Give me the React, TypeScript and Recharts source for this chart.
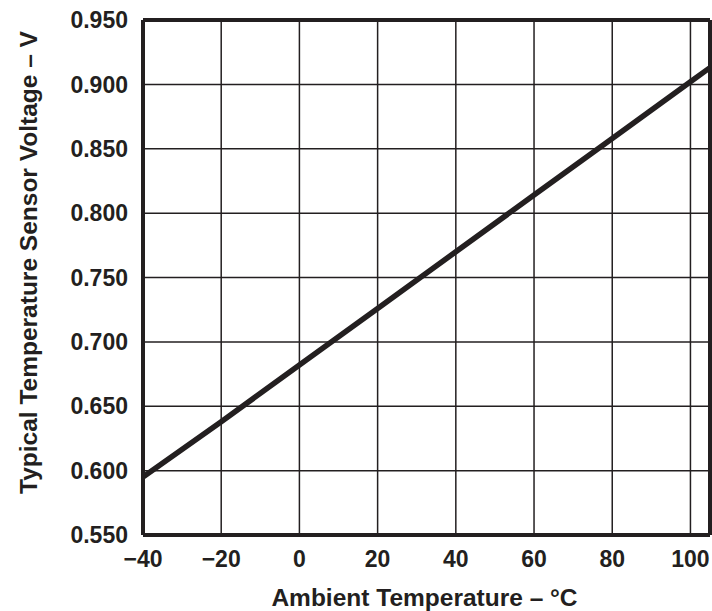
import {
  LineChart,
  Line,
  XAxis,
  YAxis,
  CartesianGrid,
  ReferenceLine,
} from "recharts";

const temperatures = [-40, -20, 0, 20, 40, 60, 80, 100, 105];
const voltages = [0.595, 0.638, 0.682, 0.726, 0.770, 0.814, 0.858, 0.902, 0.913];

const xTicks = [-40, -20, 0, 20, 40, 60, 80, 100];
const yTicks = [0.55, 0.6, 0.65, 0.7, 0.75, 0.8, 0.85, 0.9, 0.95];

const data = temperatures.map((t, i) => ({ temp: t, volt: voltages[i] }));

const ink = "#231f20";
const font = "'Liberation Sans', Arial, sans-serif";

const tickStyle = {
  fill: ink,
  fontSize: 23,
  fontWeight: 700,
  fontFamily: font,
};

const YTitle = ({ viewBox }: any) => {
  const cy = viewBox.y + viewBox.height / 2 - 15;
  const cx = 28;
  return (
    <text
      x={cx}
      y={cy}
      transform={`rotate(-90 ${cx} ${cy})`}
      textAnchor="middle"
      dominantBaseline="central"
      fill={ink}
      fontSize={24.5}
      fontWeight={700}
      fontFamily={font}
    >
      Typical Temperature Sensor Voltage – V
    </text>
  );
};

const XTitle = ({ viewBox }: any) => (
  <text
    x={viewBox.x + viewBox.width / 2 - 2}
    y={viewBox.y + 62}
    textAnchor="middle"
    dominantBaseline="central"
    fill={ink}
    fontSize={24.5}
    fontWeight={700}
    fontFamily={font}
  >
    Ambient Temperature – °C
  </text>
);

export default function App() {
  return (
    <div style={{ position: "absolute", left: 0, top: 0, background: "#fff" }}>
      <LineChart
        width={712}
        height={611}
        data={data}
        margin={{ top: 20, right: 2, left: 0, bottom: 0 }}
      >
        <CartesianGrid stroke={ink} strokeWidth={1.5} />
        <XAxis
          dataKey="temp"
          type="number"
          domain={[-40, 105]}
          ticks={xTicks}
          height={76}
          tick={tickStyle}
          tickFormatter={(v) => (v < 0 ? `\u2212${Math.abs(v)}` : `${v}`)}
          tickLine={false}
          tickSize={6}
          tickMargin={10}
          axisLine={{ stroke: ink, strokeWidth: 4 }}
          label={<XTitle />}
        />
        <YAxis
          type="number"
          domain={[0.55, 0.95]}
          ticks={yTicks}
          width={143}
          tick={tickStyle}
          tickFormatter={(v) => v.toFixed(3)}
          tickLine={false}
          tickSize={6}
          tickMargin={9}
          axisLine={{ stroke: ink, strokeWidth: 4 }}
          label={<YTitle />}
        />
        <ReferenceLine y={0.95} stroke={ink} strokeWidth={4} />
        <ReferenceLine x={105} stroke={ink} strokeWidth={4} />
        <Line
          dataKey="volt"
          type="linear"
          stroke={ink}
          strokeWidth={5.5}
          dot={false}
          isAnimationActive={false}
        />
      </LineChart>
    </div>
  );
}
